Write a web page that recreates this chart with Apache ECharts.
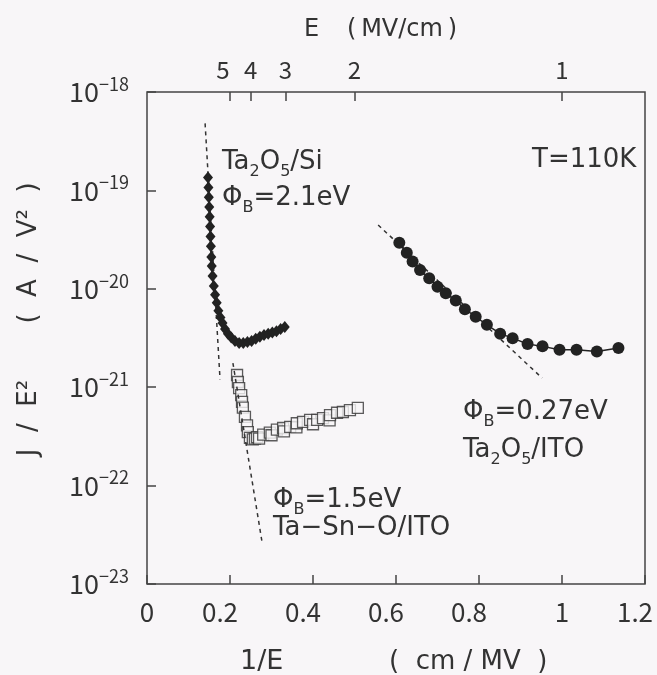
<!DOCTYPE html>
<html>
<head>
<meta charset="utf-8">
<script src="https://cdn.jsdelivr.net/npm/echarts@6/dist/echarts.min.js"></script>
<style>
html, body { margin: 0; padding: 0; background: #f8f6f8; }
#chart { width: 657px; height: 675px; }
</style>
</head>
<body>
<div id="chart"></div>
<script>
// Ta2O5/Si  (filled diamonds)
const siX = [0.147, 0.148, 0.149, 0.150, 0.151, 0.152, 0.153, 0.154, 0.155, 0.156, 0.158, 0.161, 0.164, 0.168,
  0.172, 0.177, 0.182, 0.188, 0.195, 0.203, 0.212, 0.222, 0.232, 0.242, 0.252, 0.262, 0.272, 0.282, 0.292,
  0.302, 0.312, 0.322, 0.332];
const siY = [1.35e-19, 1.07e-19, 8.5e-20, 6.8e-20, 5.4e-20, 4.3e-20, 3.4e-20, 2.7e-20, 2.1e-20, 1.7e-20, 1.35e-20,
  1.07e-20, 8.7e-21, 7.2e-21, 6.0e-21, 5.1e-21, 4.5e-21, 3.9e-21, 3.5e-21, 3.2e-21, 2.95e-21, 2.82e-21, 2.82e-21,
  2.88e-21, 2.95e-21, 3.1e-21, 3.25e-21, 3.4e-21, 3.5e-21, 3.6e-21, 3.7e-21, 3.9e-21, 4.1e-21];

// Ta-Sn-O/ITO  (open squares)
const tsoX = [0.217, 0.219, 0.222, 0.227, 0.229, 0.231, 0.236, 0.241, 0.243, 0.248, 0.255, 0.260, 0.265, 0.270,
  0.280, 0.296, 0.300, 0.313, 0.328, 0.330, 0.345, 0.360, 0.361, 0.376, 0.393, 0.400, 0.410, 0.424, 0.440, 0.441,
  0.458, 0.472, 0.489, 0.508];
const tsoY = [1.33e-21, 1.13e-21, 9.8e-22, 8.3e-22, 7.1e-22, 6.2e-22, 5.0e-22, 4.1e-22, 3.5e-22, 3.05e-22, 2.95e-22,
  3.0e-22, 3.1e-22, 3.0e-22, 3.3e-22, 3.45e-22, 3.25e-22, 3.7e-22, 3.85e-22, 3.55e-22, 3.95e-22, 3.9e-22, 4.3e-22,
  4.45e-22, 4.65e-22, 4.2e-22, 4.65e-22, 4.85e-22, 4.6e-22, 5.2e-22, 5.5e-22, 5.6e-22, 5.85e-22, 6.15e-22];

// Ta2O5/ITO  (filled circles)
const itoX = [0.608, 0.626, 0.640, 0.658, 0.680, 0.700, 0.720, 0.744, 0.766, 0.792, 0.819, 0.851, 0.881, 0.917,
  0.953, 0.994, 1.035, 1.084, 1.136];
const itoY = [2.94e-20, 2.33e-20, 1.89e-20, 1.55e-20, 1.28e-20, 1.05e-20, 9.0e-21, 7.6e-21, 6.2e-21, 5.2e-21,
  4.3e-21, 3.5e-21, 3.15e-21, 2.75e-21, 2.6e-21, 2.4e-21, 2.4e-21, 2.3e-21, 2.5e-21];

// Fowler-Nordheim fit lines (dashed), end points
const fitSiX = [0.140, 0.176];
const fitSiY = [4.8e-19, 1.2e-21];
const fitTsoX = [0.207, 0.277];
const fitTsoY = [1.76e-21, 2.7e-23];
const fitItoX = [0.557, 0.952];
const fitItoY = [4.45e-20, 1.24e-21];

// top axis: field E (MV/cm)
const eTicks = [5, 4, 3, 2, 1];
// left axis decades (powers of ten)
const yDecades = [-23, -18];

const FONT = 'Noto Sans CJK JP';   // tick labels
const TFONT = 'DejaVu Sans';       // titles and notes (wide gothic look)
const INK = '#333';
const BG = '#f8f6f8';

// y is drawn on a decade (log10) value axis
const pairs = (xs, ys) => xs.map((x, i) => [x, Math.log10(ys[i])]);

const chart = echarts.init(document.getElementById('chart'));

const big = { fontSize: 26, fontFamily: TFONT, fill: INK };
const sub = { fontSize: 16, fontFamily: TFONT, fill: INK, verticalAlign: 'bottom', padding: [0, 0, -5, 0] };

function note(x, y, text) {
  return {
    type: 'text', x: x, y: y,
    style: { text: text, rich: { b: big, s: sub }, fontSize: 26, fontFamily: TFONT, fill: INK,
      verticalAlign: 'middle' }
  };
}

function plain(x, y, text, size, rot) {
  return {
    type: 'text', x: x, y: y, rotation: rot || 0,
    style: { text: text, fontSize: size, fontFamily: TFONT, fill: INK,
      align: rot ? 'center' : 'left', verticalAlign: 'middle' }
  };
}

const tickStyle = { show: true, inside: true, length: 9, lineStyle: { color: '#444', width: 1.5 } };

const option = {
  backgroundColor: BG,
  animation: false,
  grid: { left: 147, right: 12, top: 92, bottom: 91, show: true, borderColor: '#444', borderWidth: 1.5 },
  xAxis: [
    {
      type: 'value', min: 0, max: 1.2, interval: 0.2, position: 'bottom',
      axisLine: { show: false },
      axisTick: tickStyle,
      splitLine: { show: false },
      axisLabel: {
        margin: 15,
        formatter: v => {
          const s = String(+v.toFixed(1));
          return s.indexOf('.') >= 0 ? '{d|' + s + '}' : '{n|' + s + '}';
        },
        rich: {
          n: { fontSize: 26, fontFamily: FONT, color: INK },
          d: { fontSize: 26, fontFamily: FONT, color: INK, padding: [0, 20, 0, 0] }
        }
      }
    },
    {
      type: 'value', min: 0, max: 1.2, position: 'top',
      axisLine: { show: false },
      axisTick: Object.assign({}, tickStyle, { customValues: eTicks.map(e => 1 / e) }),
      splitLine: { show: false },
      axisLabel: {
        margin: 10,
        customValues: eTicks.map(e => 1 / e),
        formatter: v => {
          const e = Math.round(1 / v);
          return (e === 5 ? '{l|' : '{n|') + e + '}';
        },
        rich: {
          n: { fontSize: 24, fontFamily: FONT, color: INK },
          l: { fontSize: 24, fontFamily: FONT, color: INK, padding: [0, 14, 0, 0] }
        }
      }
    }
  ],
  yAxis: {
    type: 'value', min: yDecades[0], max: yDecades[1], interval: 1,
    axisLine: { show: false },
    axisTick: tickStyle,
    splitLine: { show: false },
    axisLabel: {
      margin: 18,
      formatter: v => '{b|10}{s|\u2212' + Math.abs(Math.round(v)) + '}',
      rich: {
        b: { fontSize: 27, fontFamily: FONT, color: INK, lineHeight: 34 },
        s: { fontSize: 18, fontFamily: FONT, color: INK, verticalAlign: 'top', lineHeight: 18 }
      }
    }
  },
  graphic: [
    plain(304, 30, 'E', 24),
    plain(347, 30, '(\u2009MV/cm\u2009)', 24),
    plain(240, 662, '1/E', 27),
    plain(389, 662, '(  cm / MV  )', 26),
    plain(29, 253, '(  A  /  V\u00b2  )', 26, Math.PI / 2),
    plain(29, 418, 'J  /  E\u00b2', 26, Math.PI / 2),
    note(222, 162, '{b|Ta}{s|2}{b|O}{s|5}{b|/Si}'),
    note(222, 198, '{b|\u03a6}{s|B}{b|=2.1eV}'),
    note(532, 160, '{b|T=110K}'),
    note(463, 412, '{b|\u03a6}{s|B}{b|=0.27eV}'),
    note(463, 450, '{b|Ta}{s|2}{b|O}{s|5}{b|/ITO}'),
    note(273, 500, '{b|\u03a6}{s|B}{b|=1.5eV}'),
    note(273, 528, '{b|Ta\u2212Sn\u2212O/ITO}')
  ],
  series: [
    {
      type: 'line', data: pairs(fitSiX, fitSiY), showSymbol: false, symbol: 'none',
      lineStyle: { color: INK, width: 1.5, type: [4, 4] }
    },
    {
      type: 'line', data: pairs(fitTsoX, fitTsoY), showSymbol: false, symbol: 'none',
      lineStyle: { color: INK, width: 1.5, type: [4, 4] }
    },
    {
      type: 'line', data: pairs(fitItoX, fitItoY), showSymbol: false, symbol: 'none',
      lineStyle: { color: INK, width: 1.5, type: [4, 4] }
    },
    {
      name: 'Ta2O5/Si', type: 'line', data: pairs(siX, siY), symbol: 'diamond', symbolSize: [10, 12],
      itemStyle: { color: '#222' }, lineStyle: { color: '#222', width: 2 }
    },
    {
      name: 'Ta-Sn-O/ITO', type: 'scatter', data: pairs(tsoX, tsoY), symbol: 'rect', symbolSize: 11,
      itemStyle: { color: BG, borderColor: '#333', borderWidth: 1.3 }
    },
    {
      name: 'Ta2O5/ITO', type: 'line', data: pairs(itoX, itoY), symbol: 'circle', symbolSize: 12,
      itemStyle: { color: '#222' }, lineStyle: { color: '#222', width: 1.5 }
    }
  ]
};

chart.setOption(option);
</script>
</body>
</html>
